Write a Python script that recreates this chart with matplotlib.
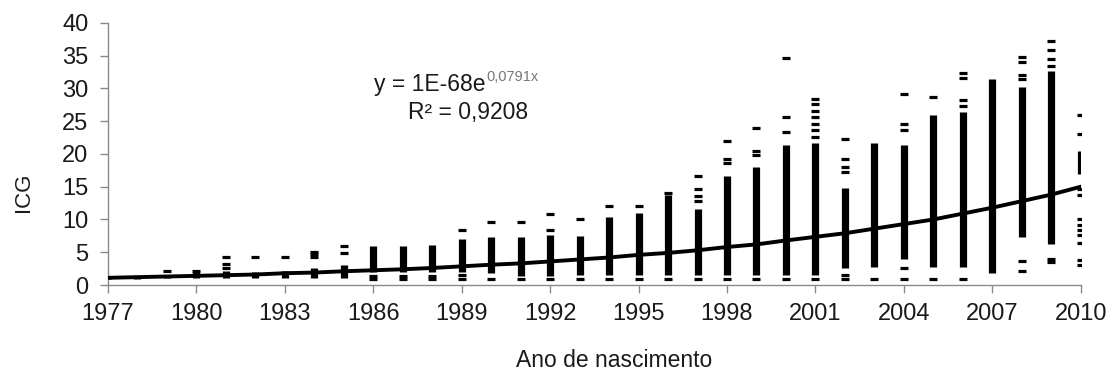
import matplotlib.pyplot as plt

plt.rcParams["font.family"] = ["Liberation Sans", "DejaVu Sans"]

# birth years on the x axis
years = list(range(1977, 2011))

# dense part of each year's column of ICG values (low / high end)
band_low = [0.9, 0.9, 1.0, 1.1, 1.0, 1.0, 1.0, 1.0, 1.0, 2.0,
            2.0, 2.0, 2.0, 1.8, 1.4, 1.4, 1.5, 1.5, 1.5, 1.5,
            1.5, 1.5, 1.5, 1.6, 1.6, 2.6, 2.7, 4.0, 2.7, 2.7,
            1.8, 7.4, 6.3, 17.0]
band_high = [1.3, 1.2, 1.6, 2.0, 2.2, 2.0, 2.2, 2.6, 3.0, 5.9,
             5.9, 6.1, 7.0, 7.4, 7.4, 7.6, 7.5, 10.4, 11.0, 13.7,
             11.6, 16.6, 18.0, 21.4, 21.6, 14.8, 21.6, 21.3, 26.0, 26.4,
             31.4, 30.2, 32.6, 20.5]

# isolated values above / below the dense part, one list per year
extra_points = [
    [], [], [2.2], [2.2], [2.6, 3.2, 4.3], [4.3], [4.3],
    [4.3, 4.8, 5.1], [4.9, 5.9], [0.9, 1.4], [0.9, 1.4], [0.9, 1.4],
    [0.9, 1.5, 8.4], [0.9, 9.6], [0.9, 9.6], [0.9, 8.4, 10.9],
    [0.9, 10.0], [0.9, 12.0], [0.9, 12.0], [0.9, 14.0],
    [0.9, 12.8, 13.6, 14.6, 16.6], [0.9, 18.6, 19.2, 22.0],
    [0.9, 19.8, 20.5, 24.0], [0.9, 23.3, 25.6, 34.6],
    [0.9, 22.6, 23.6, 24.6, 25.6, 26.6, 27.6, 28.4],
    [0.9, 1.6, 17.2, 18.0, 19.3, 22.3], [0.9],
    [0.9, 2.6, 23.7, 24.6, 29.2], [0.9, 28.7],
    [0.9, 27.3, 28.2, 31.6, 32.4], [],
    [2.2, 3.7, 31.5, 32.0, 34.0, 34.8],
    [3.5, 3.9, 33.5, 34.5, 35.8, 37.2],
    [3.0, 3.8, 6.4, 7.6, 8.4, 9.2, 10.1, 13.8, 14.6, 23.1, 26.0],
]

# exponential trend line at each year
trend = [1.1, 1.2, 1.3, 1.4, 1.5, 1.6, 1.8, 1.9, 2.1, 2.25,
         2.4, 2.6, 2.85, 3.1, 3.3, 3.6, 3.9, 4.2, 4.6, 4.9,
         5.3, 5.8, 6.2, 6.8, 7.35, 7.9, 8.6, 9.3, 10.0, 10.9,
         11.8, 12.8, 13.8, 15.0]

x_ticks = list(range(1977, 2011, 3))
y_ticks = list(range(0, 41, 5))

fig = plt.figure(figsize=(11.13, 3.76), dpi=100)
ax = fig.add_axes([0.097, 0.242, 0.874, 0.697])

ax.vlines(years, band_low, band_high, colors="black", linewidth=5.2)

for year, values in zip(years, extra_points):
    ax.plot([year] * len(values), values, linestyle="none",
            marker="_", markersize=5.8, markeredgewidth=2.3, color="black")

ax.plot(years, trend, color="black", linewidth=2.8, zorder=5)

ax.set_xlim(1977, 2010)
ax.set_ylim(0, 40)
ax.set_xticks(x_ticks)
ax.set_yticks(y_ticks)

for side in ["top", "right"]:
    ax.spines[side].set_visible(False)
for side in ["left", "bottom"]:
    ax.spines[side].set_color("#8a8a8a")
    ax.spines[side].set_linewidth(1.0)

ax.tick_params(axis="both", direction="out", length=6, width=1,
               color="#8a8a8a", labelsize=17, labelcolor="#1a1a1a")
ax.tick_params(axis="y", pad=8)
ax.tick_params(axis="x", pad=7)

ax.set_ylabel("ICG", fontsize=16, color="#1a1a1a")
ax.yaxis.set_label_coords(-0.076, 0.355)
ax.set_xlabel("Ano de nascimento", fontsize=16.5, color="#1a1a1a")
ax.xaxis.set_label_coords(0.52, -0.245)

eq = ax.text(0.274, 0.765, "y = 1E-68e", transform=ax.transAxes,
             fontsize=16.5, color="#1a1a1a", ha="left", va="center")
ax.annotate("0,0791x", xy=(1, 1), xycoords=eq, xytext=(0.5, 2.5),
            textcoords="offset points", fontsize=10.5, color="#777777",
            ha="left", va="top")
ax.text(0.37, 0.66, "R\u00b2 = 0,9208", transform=ax.transAxes,
        fontsize=16.5, color="#1a1a1a", ha="center", va="center")

plt.savefig("out.png", dpi=100)
plt.close()
